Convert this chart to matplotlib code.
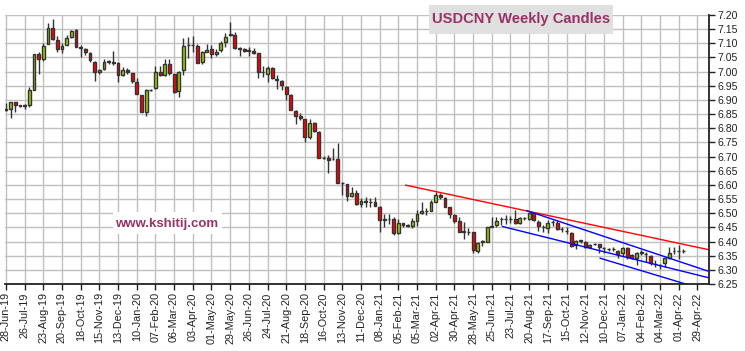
import pandas as pd
import matplotlib
matplotlib.use('Agg')
import matplotlib.pyplot as plt
import matplotlib.dates as mdates
import matplotlib.patches as mpatches


start_date = '2019-06-28'

opens = [
    6.867, 6.867, 6.892, 6.881, 6.880, 6.881, 6.936, 7.061, 7.043, 7.096,
    7.153, 7.110, 7.081, 7.093, 7.124, 7.146, 7.088, 7.079, 7.065, 7.035,
    6.998, 7.008, 7.035, 7.033, 7.032, 6.987, 7.006, 6.994, 6.962, 6.916,
    6.859, 6.934, 6.941, 7.000, 6.988, 7.026, 6.990, 6.932, 7.005, 7.094,
    7.095, 7.090, 7.033, 7.070, 7.079, 7.061, 7.075, 7.103, 7.131, 7.131,
    7.082, 7.080, 7.074, 7.074, 7.065, 7.000, 6.993, 7.012, 6.973, 6.967,
    6.947, 6.917, 6.862, 6.843, 6.831, 6.770, 6.820, 6.788, 6.696, 6.694,
    6.690, 6.690, 6.606, 6.603, 6.562, 6.573, 6.532, 6.541, 6.539, 6.539,
    6.523, 6.476, 6.478, 6.478, 6.429, 6.464, 6.456, 6.456, 6.474, 6.500,
    6.508, 6.509, 6.541, 6.564, 6.553, 6.521, 6.494, 6.474, 6.435, 6.435,
    6.435, 6.367, 6.400, 6.400, 6.452, 6.457, 6.478, 6.479, 6.479, 6.480,
    6.464, 6.482, 6.478, 6.500, 6.470, 6.450, 6.447, 6.468, 6.467, 6.444,
    6.438, 6.429, 6.388, 6.403, 6.400, 6.380, 6.391, 6.390, 6.376, 6.374,
    6.373, 6.367, 6.358, 6.376, 6.352, 6.341, 6.361, 6.356, 6.349, 6.320,
    6.317, 6.323, 6.341, 6.367, 6.366, 6.367,
]
highs = [
    6.890, 6.893, 6.894, 6.882, 6.885, 6.947, 7.062, 7.071, 7.100, 7.171,
    7.186, 7.127, 7.100, 7.130, 7.146, 7.149, 7.094, 7.082, 7.068, 7.037,
    7.011, 7.043, 7.041, 7.073, 7.035, 7.018, 7.014, 6.996, 6.979, 6.917,
    6.939, 6.937, 7.021, 7.021, 7.043, 7.045, 6.991, 7.003, 7.120, 7.123,
    7.125, 7.096, 7.073, 7.096, 7.094, 7.079, 7.108, 7.135, 7.176, 7.139,
    7.086, 7.085, 7.088, 7.082, 7.065, 7.020, 7.020, 7.015, 6.988, 6.970,
    6.949, 6.921, 6.863, 6.855, 6.833, 6.831, 6.823, 6.791, 6.702, 6.706,
    6.729, 6.747, 6.611, 6.603, 6.594, 6.582, 6.553, 6.559, 6.553, 6.556,
    6.524, 6.496, 6.496, 6.488, 6.478, 6.467, 6.461, 6.482, 6.512, 6.541,
    6.517, 6.547, 6.576, 6.570, 6.556, 6.522, 6.496, 6.488, 6.470, 6.447,
    6.435, 6.400, 6.405, 6.452, 6.488, 6.488, 6.488, 6.492, 6.490, 6.512,
    6.485, 6.488, 6.505, 6.506, 6.476, 6.458, 6.476, 6.476, 6.476, 6.450,
    6.453, 6.435, 6.405, 6.405, 6.403, 6.391, 6.396, 6.391, 6.380, 6.378,
    6.382, 6.370, 6.380, 6.380, 6.356, 6.364, 6.370, 6.364, 6.352, 6.335,
    6.320, 6.347, 6.382, 6.380, 6.388, 6.374,
]
lows = [
    6.860, 6.835, 6.859, 6.874, 6.867, 6.876, 6.936, 6.990, 7.039, 7.096,
    7.110, 7.068, 7.067, 7.093, 7.120, 7.086, 7.050, 7.059, 7.035, 6.968,
    6.993, 7.006, 7.028, 7.025, 6.962, 6.985, 6.993, 6.959, 6.920, 6.857,
    6.843, 6.932, 6.939, 6.986, 6.986, 6.988, 6.923, 6.912, 6.988, 7.047,
    7.070, 7.030, 7.028, 7.068, 7.047, 7.056, 7.071, 7.088, 7.127, 7.080,
    7.056, 7.071, 7.055, 7.061, 6.979, 6.982, 6.965, 6.974, 6.937, 6.935,
    6.900, 6.865, 6.815, 6.829, 6.753, 6.761, 6.788, 6.696, 6.693, 6.643,
    6.688, 6.608, 6.564, 6.543, 6.558, 6.529, 6.521, 6.523, 6.523, 6.526,
    6.432, 6.452, 6.461, 6.423, 6.427, 6.452, 6.450, 6.447, 6.455, 6.496,
    6.494, 6.509, 6.539, 6.550, 6.521, 6.482, 6.464, 6.435, 6.410, 6.423,
    6.361, 6.358, 6.384, 6.398, 6.450, 6.450, 6.458, 6.462, 6.467, 6.462,
    6.461, 6.476, 6.476, 6.474, 6.438, 6.435, 6.429, 6.455, 6.441, 6.435,
    6.427, 6.382, 6.374, 6.396, 6.376, 6.376, 6.388, 6.361, 6.358, 6.368,
    6.368, 6.341, 6.349, 6.337, 6.337, 6.317, 6.352, 6.329, 6.317, 6.309,
    6.303, 6.311, 6.337, 6.356, 6.337, 6.361,
]
closes = [
    6.866, 6.892, 6.881, 6.880, 6.882, 6.936, 7.061, 7.043, 7.092, 7.153,
    7.114, 7.080, 7.089, 7.120, 7.145, 7.088, 7.085, 7.068, 7.040, 6.998,
    7.006, 7.035, 7.035, 7.032, 6.987, 7.006, 6.998, 6.967, 6.920, 6.859,
    6.934, 6.935, 6.998, 6.988, 7.026, 6.994, 6.929, 7.000, 7.092, 7.094,
    7.093, 7.032, 7.068, 7.078, 7.061, 7.071, 7.100, 7.124, 7.132, 7.082,
    7.080, 7.073, 7.074, 7.067, 7.000, 6.997, 7.012, 6.976, 6.972, 6.952,
    6.920, 6.865, 6.843, 6.838, 6.770, 6.820, 6.792, 6.696, 6.695, 6.688,
    6.690, 6.608, 6.605, 6.562, 6.573, 6.532, 6.542, 6.541, 6.539, 6.527,
    6.476, 6.478, 6.479, 6.429, 6.464, 6.457, 6.456, 6.472, 6.496, 6.508,
    6.509, 6.539, 6.564, 6.556, 6.523, 6.496, 6.474, 6.435, 6.435, 6.434,
    6.370, 6.396, 6.400, 6.450, 6.453, 6.474, 6.479, 6.480, 6.479, 6.464,
    6.482, 6.482, 6.500, 6.476, 6.455, 6.450, 6.467, 6.468, 6.444, 6.444,
    6.437, 6.384, 6.403, 6.403, 6.380, 6.388, 6.391, 6.380, 6.376, 6.373,
    6.372, 6.356, 6.376, 6.344, 6.341, 6.361, 6.361, 6.357, 6.325, 6.320,
    6.317, 6.341, 6.358, 6.367, 6.367, 6.367,
]

# trend lines: (week offset from start, price)
red_line = [(85.6, 6.599), (150.2, 6.372)]
blue_lines = [
    [(111.5, 6.509), (150.2, 6.296)],
    [(106.3, 6.453), (150.2, 6.273)],
    [(127.2, 6.341), (147.5, 6.240)],
]

y_ticks = [6.25 + 0.05 * i for i in range(20)]

title = 'USDCNY Weekly Candles'
site = 'www.kshitij.com'


def week_date(w):
    return pd.Timestamp(start_date) + pd.Timedelta(days=7 * w)


def draw_chart():
    plt.rcParams['font.family'] = ['Liberation Sans', 'DejaVu Sans']
    fig = plt.figure(figsize=(7.45, 3.51), dpi=100)
    ax = fig.add_axes([5 / 745, 67 / 351, 704 / 745, 269 / 351])

    dates = pd.date_range(start_date, periods=len(opens), freq='7D')
    d_num = mdates.date2num(dates)

    up_col = '#99cc00'
    down_col = '#ff0000'
    edge = '#333333'

    ax.vlines(d_num, lows, highs, color=edge, lw=1, zorder=2)
    bottoms = [min(o, c) for o, c in zip(opens, closes)]
    heights = [max(abs(c - o), 0.0012) for o, c in zip(opens, closes)]
    colors = [up_col if c >= o else down_col for o, c in zip(opens, closes)]
    ax.bar(d_num, heights, bottom=bottoms, width=4.3, color=colors,
           edgecolor=edge, lw=1, zorder=3)

    xs = [mdates.date2num(week_date(w)) for w, p in red_line]
    ax.plot(xs, [p for w, p in red_line], color='#ff0000', lw=1, zorder=4)
    for line in blue_lines:
        xs = [mdates.date2num(week_date(w)) for w, p in line]
        ax.plot(xs, [p for w, p in line], color='#0000ff', lw=1, zorder=4)

    ax.set_ylim(6.25, 7.20)
    ax.set_yticks(y_ticks)
    ax.set_yticklabels(['%.2f' % v for v in y_ticks])
    ax.yaxis.tick_right()

    x_ticks = pd.date_range(start_date, '2022-04-29', freq='28D')
    ax.set_xticks(mdates.date2num(x_ticks))
    ax.set_xticklabels([d.strftime('%d-%b-%y') for d in x_ticks], rotation=90)
    ax.set_xlim(mdates.date2num(week_date(-0.2)), mdates.date2num(week_date(150.5)))

    ax.grid(True, color='#c0c0c0', lw=1)
    ax.set_axisbelow(True)
    for s in ['top', 'left']:
        ax.spines[s].set_visible(False)
    for s in ['bottom', 'right']:
        ax.spines[s].set_color('#222222')
        ax.spines[s].set_linewidth(1.3)
    ax.tick_params(axis='both', direction='out', length=4, width=1,
                   color='#222222', labelcolor='#222222', labelsize=7.8, pad=2)
    ax.tick_params(axis='y', labelsize=7.6)

    # title box
    fig.patches.append(mpatches.Rectangle((429 / 745, 317 / 351), 184 / 745, 29 / 351,
                                          transform=fig.transFigure,
                                          facecolor='#e0e0e0', edgecolor='none'))
    fig.text(521 / 745, 332 / 351, title, ha='center', va='center',
             fontsize=10.6, fontweight='bold', color='#993366')

    # site watermark
    fig.patches.append(mpatches.Rectangle((113 / 745, 117 / 351), 109 / 745, 22 / 351,
                                          transform=fig.transFigure,
                                          facecolor='white', edgecolor='none'))
    fig.text(167 / 745, 127 / 351, site, ha='center', va='center',
             fontsize=9.5, fontweight='bold', color='#993366')

    plt.savefig('out.png', dpi=100)
    plt.clf()


def main():
    draw_chart()


if __name__ == "__main__":
    main()
